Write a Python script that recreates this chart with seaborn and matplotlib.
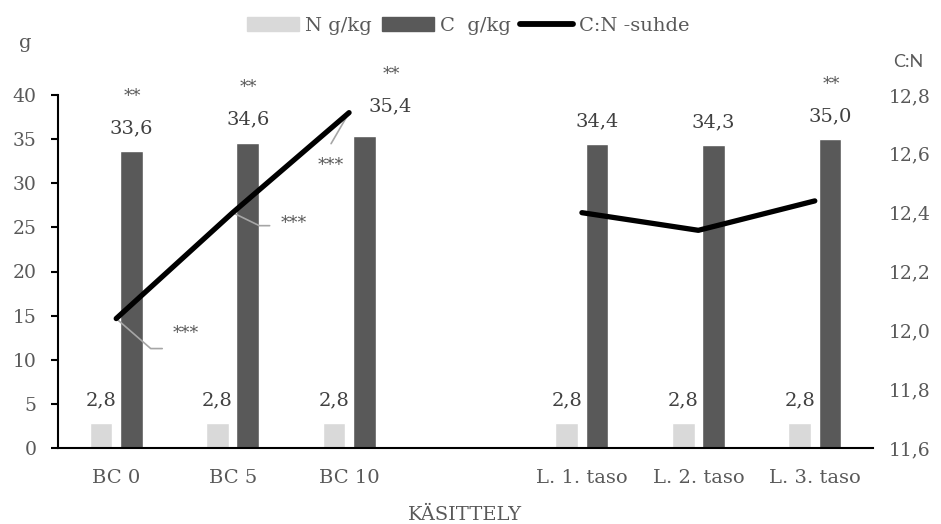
import numpy as np
import pandas as pd
import matplotlib
matplotlib.use('Agg')
import matplotlib.pyplot as plt
import seaborn as sns
from matplotlib.patches import Patch
from matplotlib.lines import Line2D
from matplotlib.ticker import FixedLocator

# Data
categories = ['BC 0', 'BC 5', 'BC 10', '', 'L. 1. taso', 'L. 2. taso', 'L. 3. taso']
n_values = [2.8, 2.8, 2.8, np.nan, 2.8, 2.8, 2.8]
c_values = [33.6, 34.6, 35.4, np.nan, 34.4, 34.3, 35.0]
cn_ratio = [12.04, 12.40, 12.74, np.nan, 12.40, 12.34, 12.44]
c_stars = ['**', '**', '**', '', '', '', '**']
cn_stars = ['***', '***', '***', '', '', '', '']
series_names = ['N g/kg', 'C  g/kg']
left_ticks = [0, 5, 10, 15, 20, 25, 30, 35, 40]
right_ticks = [11.6, 11.8, 12.0, 12.2, 12.4, 12.6, 12.8]

colors = {'N g/kg': '#D9D9D9', 'C  g/kg': '#595959'}
txt = '#595959'

rows = []
for cat, n, c in zip(categories, n_values, c_values):
    if not np.isnan(n):
        rows.append({'kasittely': cat, 'sarja': series_names[0], 'arvo': n})
    if not np.isnan(c):
        rows.append({'kasittely': cat, 'sarja': series_names[1], 'arvo': c})
df = pd.DataFrame(rows)

sns.set_theme(style='white')
plt.rcParams['font.family'] = ['DejaVu Serif']

W, H = 941, 524
fig = plt.figure(figsize=(W / 100, H / 100), dpi=100)
ax = fig.add_axes([58 / W, (H - 448) / H, 815 / W, 353 / H])

sns.barplot(data=df, x='kasittely', y='arvo', hue='sarja', order=categories,
            hue_order=series_names, palette=colors, width=0.52, gap=0.25,
            errorbar=None, legend=False, ax=ax, saturation=1)

ax.set_xlim(-0.5, len(categories) - 0.5)
ax.set_ylim(0, 40)
ax.set_yticks(left_ticks)
ax.set_xlabel('KÄSITTELY', fontsize=14, color=txt)
ax.xaxis.set_label_coords(0.5, (H - 515 - 76) / 353)
ax.xaxis.label.set_va('center')
ax.set_ylabel('')

for s in ['top', 'right']:
    ax.spines[s].set_visible(False)
for s in ['left', 'bottom']:
    ax.spines[s].set_color('black')
    ax.spines[s].set_linewidth(1.5)

ax.tick_params(axis='x', which='major', length=0, pad=15, labelsize=14, labelcolor=txt)
ax.xaxis.set_minor_locator(FixedLocator(np.arange(-0.5, len(categories), 1)))
ax.tick_params(axis='x', which='minor', length=5, width=1.5, color='black', direction='out')
ax.tick_params(axis='y', length=5, width=1.5, color='black', direction='out',
               pad=10.5, labelsize=13.5, labelcolor=txt, left=True)

# value labels on bars
c_label_shift = {2: (26, 29)}
for cont, name in zip(ax.containers, series_names):
    for bar in cont:
        h = bar.get_height()
        if np.isnan(h):
            continue
        x = bar.get_x() + bar.get_width() / 2
        i = int(round(x))
        dx, dy = (0, 23)
        if name == series_names[1]:
            dx, dy = c_label_shift.get(i, (0, 23))
        ax.annotate(f'{h:.1f}'.replace('.', ','), xy=(x, h), xytext=(dx, dy),
                    textcoords='offset pixels', ha='center', va='center',
                    fontsize=14, color='#404040')
        if name == series_names[1] and c_stars[i]:
            ax.annotate(c_stars[i], xy=(x, h), xytext=(dx + 1, dy + 32),
                        textcoords='offset pixels', ha='center', va='center',
                        fontsize=12.5, color=txt)

# C:N line on secondary axis
ax2 = ax.twinx()
ax2.set_position(ax.get_position())
ax2.plot(range(len(categories)), cn_ratio, color='black', lw=3.8,
         solid_capstyle='round', zorder=4)
ax2.set_ylim(11.6, 12.8)
ax2.set_yticks(right_ticks)
ax2.set_yticklabels([f'{v:.1f}'.replace('.', ',') for v in right_ticks])
ax2.tick_params(axis='y', length=0, pad=11, labelsize=13.5, labelcolor=txt)
for s in ax2.spines.values():
    s.set_visible(False)
ax2.grid(False)

# significance marks with leader lines
star_text = {0: (70, -15), 1: (61, -11), 2: (-18, -53)}
leader = {0: ((46, -30), 'angle,angleA=0,angleB=-41,rad=0'),
          1: ((37, -13), 'angle,angleA=0,angleB=-26,rad=0'),
          2: ((-18, -31), 'arc3,rad=0')}
for i, mark in enumerate(cn_stars):
    if not mark:
        continue
    ax2.annotate(mark, xy=(i, cn_ratio[i]), xytext=star_text[i],
                 textcoords='offset pixels', ha='center', va='center',
                 fontsize=12.5, color=txt, zorder=2)
    end, style = leader[i]
    ax2.annotate('', xy=(i, cn_ratio[i]), xytext=end, textcoords='offset pixels',
                 arrowprops=dict(arrowstyle='-', color='#A6A6A6', lw=1.2,
                                 shrinkA=0, shrinkB=0, connectionstyle=style),
                 zorder=2)

# axis titles
fig.text(25 / W, 1 - 43 / H, 'g', ha='center', va='center', fontsize=14, color=txt)
fig.text(908 / W, 1 - 62 / H, 'C:N', ha='center', va='center', fontsize=13,
         color=txt, family=['Lato', 'DejaVu Sans'])

# legend
handles = [Patch(color=colors[series_names[0]]), Patch(color=colors[series_names[1]]),
           Line2D([0], [0], color='black', lw=4.2, solid_capstyle='round')]
labels = ['N g/kg', 'C  g/kg', 'C:N -suhde']
fig.legend(handles=handles, labels=labels, loc='center',
           bbox_to_anchor=(468 / W, 1 - 26 / H), ncol=3, frameon=False,
           fontsize=14, handlelength=2.7, handleheight=0.7, handletextpad=0.3,
           columnspacing=0.5, labelcolor=txt)

fig.savefig('out.png', dpi=100)
